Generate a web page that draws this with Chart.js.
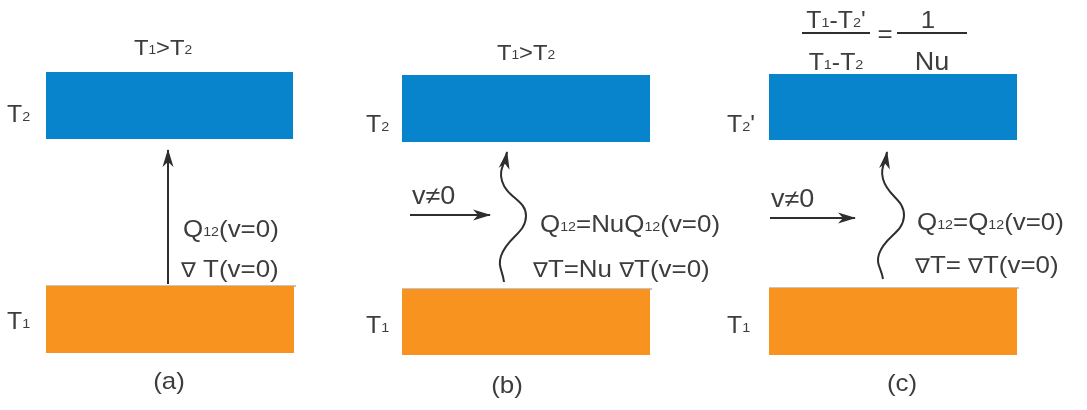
<!DOCTYPE html>
<html>
<head>
<meta charset="utf-8">
<script src="https://cdn.jsdelivr.net/npm/chart.js@4.4.1/dist/chart.umd.min.js"></script>
<style>
  html, body { margin: 0; padding: 0; background: #ffffff; overflow: hidden; }
  canvas { display: block; }
</style>
</head>
<body>
<canvas id="fig" width="1087" height="410"></canvas>
<script>
// Panel captions
const panelCaptions = ['(a)', '(b)', '(c)'];

// Cold (upper) plate per panel: [left, right] and [top, bottom]
const coldPlateX = [[46, 293], [402, 650], [769, 1017]];
const coldPlateY = [[72, 139], [75, 142], [74, 140]];
// Hot (lower) plate per panel
const hotPlateX = [[46, 294], [402, 650], [769, 1017]];
const hotPlateY = [[286, 353], [289, 355], [288, 355]];

// Pure conduction arrow, panel (a)
const conductionPath = [[168, 284], [168, 150]];
// Cross-flow arrows, panels (b) and (c)
const flowPathB = [[410, 215], [490, 215]];
const flowPathC = [[770, 218], [855, 218]];
// Wavy heat-flux paths, panels (b) and (c)
const heatPathB = [[504, 282], [501, 256], [526, 216], [502, 181], [507, 152]];
const heatPathC = [[883, 279], [879, 254], [904, 216], [883, 179], [887, 152]];
// Fraction bars of the ratio in panel (c)
const fracBarLeft = [[802, 33], [870, 33]];
const fracBarRight = [[897, 33], [967, 33]];

// Text labels: '_{..}' marks a subscript
const plateLabelsTop = ['T_{2}', 'T_{2}', "T_{2}'"];
const plateLabelsBottom = ['T_{1}', 'T_{1}', 'T_{1}'];
const headerLabels = ['T_{1}>T_{2}', 'T_{1}>T_{2}'];
const fluxLabels = ['Q_{12}(v=0)', 'Q_{12}=NuQ_{12}(v=0)', 'Q_{12}=Q_{12}(v=0)'];
const gradLabels = ['\u2207 T(v=0)', '\u2207T=Nu \u2207T(v=0)', '\u2207T= \u2207T(v=0)'];
const flowLabel = 'v\u22600';
const ratioLabels = ["T_{1}-T_{2}'", 'T_{1}-T_{2}', '=', '1', 'Nu'];

const COLD = '#0784CC';
const HOT = '#F7931E';
const INK = '#2e2e2e';
const TEXT = '#3d3d3d';

const pts = a => a.map(p => ({ x: p[0], y: p[1] }));

const datasets = [];
for (let i = 0; i < 3; i++) {
  datasets.push({
    data: pts([[coldPlateX[i][0], coldPlateY[i][0]], [coldPlateX[i][1], coldPlateY[i][0]]]),
    fill: { value: coldPlateY[i][1] }, backgroundColor: COLD,
    borderWidth: 0, pointRadius: 0
  });
  datasets.push({
    data: pts([[hotPlateX[i][0], hotPlateY[i][0]], [hotPlateX[i][1], hotPlateY[i][0]]]),
    fill: { value: hotPlateY[i][1] }, backgroundColor: HOT,
    borderWidth: 0, pointRadius: 0
  });
  // thin grey edge on top of the hot plate
  datasets.push({
    data: pts([[hotPlateX[i][0], hotPlateY[i][0]], [hotPlateX[i][1] + 2, hotPlateY[i][0]]]),
    fill: false, borderColor: '#8a8a8a', borderWidth: 1.2, pointRadius: 0
  });
}
[conductionPath, flowPathB, flowPathC].forEach(p => datasets.push({
  data: pts(p), fill: false, borderColor: INK, borderWidth: 2, pointRadius: 0, arrow: true
}));
[heatPathB, heatPathC].forEach(p => datasets.push({
  data: pts(p), fill: false, borderColor: INK, borderWidth: 2, pointRadius: 0,
  tension: 0.45, arrow: true
}));
[fracBarLeft, fracBarRight].forEach(p => datasets.push({
  data: pts(p), fill: false, borderColor: INK, borderWidth: 2, pointRadius: 0
}));

// label layout: [text, x, baseline y, align, font size, subscript ratio]
const labelItems = [
  [headerLabels[0], 163, 55, 'center', 22, 0.58],
  [headerLabels[1], 526, 60, 'center', 22, 0.58],
  [plateLabelsTop[0], 7, 122, 'left', 23, 0.58],
  [plateLabelsTop[1], 366, 132, 'left', 23, 0.58],
  [plateLabelsTop[2], 727, 132, 'left', 23, 0.58],
  [plateLabelsBottom[0], 7, 329, 'left', 23, 0.58],
  [plateLabelsBottom[1], 366, 333, 'left', 23, 0.58],
  [plateLabelsBottom[2], 727, 333, 'left', 23, 0.58],
  [fluxLabels[0], 183, 237, 'left', 24, 0.55],
  [fluxLabels[1], 540, 232, 'left', 24, 0.55],
  [fluxLabels[2], 917, 230, 'left', 24, 0.55],
  [gradLabels[0], 181, 277, 'left', 24, 0.55],
  [gradLabels[1], 533, 277, 'left', 24, 0.55],
  [gradLabels[2], 915, 273, 'left', 24, 0.55],
  [flowLabel, 412, 204, 'left', 25, 0.55],
  [flowLabel, 771, 207, 'left', 25, 0.55],
  [ratioLabels[0], 836, 28, 'center', 23, 0.58],
  [ratioLabels[1], 836, 70, 'center', 23, 0.58],
  [ratioLabels[2], 885, 42, 'center', 24, 0.58],
  [ratioLabels[3], 928, 28, 'center', 24, 0.58],
  [ratioLabels[4], 932, 70, 'center', 25, 0.58],
  [panelCaptions[0], 169, 389, 'center', 24, 0.5],
  [panelCaptions[1], 507, 393, 'center', 24, 0.5],
  [panelCaptions[2], 902, 391, 'center', 24, 0.5]
];

const FONT = '"Liberation Sans", Arial, Helvetica, sans-serif';
const STRETCH = 1.08;

// split a label into plain, subscript and nabla pieces
function parseRich(s) {
  const out = [];
  const re = /_\{([^}]*)\}|\u2207/g;
  let last = 0, m;
  while ((m = re.exec(s))) {
    if (m.index > last) out.push({ t: s.slice(last, m.index), kind: 'n' });
    if (m[0] === '\u2207') out.push({ t: '\u2207', kind: 'nabla' });
    else out.push({ t: m[1], kind: 'sub' });
    last = re.lastIndex;
  }
  if (last < s.length) out.push({ t: s.slice(last), kind: 'n' });
  return out;
}

function drawRich(ctx, s, x, y, align, size, subRatio) {
  const segs = parseRich(s);
  const fontFor = seg => {
    if (seg.kind === 'sub') return (size * subRatio) + 'px ' + FONT;
    if (seg.kind === 'nabla') return (size * 0.86) + 'px "DejaVu Sans", sans-serif';
    return size + 'px ' + FONT;
  };
  let w = 0;
  segs.forEach(seg => { ctx.font = fontFor(seg); seg.w = ctx.measureText(seg.t).width; w += seg.w; });
  w *= STRETCH;
  const x0 = align === 'center' ? x - w / 2 : x;
  ctx.save();
  ctx.translate(x0, y);
  ctx.scale(STRETCH, 1);
  ctx.fillStyle = TEXT;
  ctx.textBaseline = 'alphabetic';
  ctx.textAlign = 'left';
  let cx = 0;
  segs.forEach(seg => {
    ctx.font = fontFor(seg);
    ctx.fillText(seg.t, cx, seg.kind === 'sub' ? -size * 0.05 : 0);
    cx += seg.w;
  });
  ctx.restore();
}

const arrowHeads = {
  id: 'arrowHeads',
  afterDatasetsDraw(chart) {
    const ctx = chart.ctx;
    chart.data.datasets.forEach((ds, i) => {
      if (!ds.arrow) return;
      const el = chart.getDatasetMeta(i).data;
      const a = el[el.length - 2], b = el[el.length - 1];
      const ang = Math.atan2(b.y - a.y, b.x - a.x);
      const L = 17, H = 5.5, N = 12;
      ctx.save();
      ctx.translate(b.x, b.y);
      ctx.rotate(ang);
      ctx.fillStyle = INK;
      ctx.beginPath();
      ctx.moveTo(1, 0);
      ctx.lineTo(-L, -H);
      ctx.lineTo(-N, 0);
      ctx.lineTo(-L, H);
      ctx.closePath();
      ctx.fill();
      ctx.restore();
    });
  }
};

const labels = {
  id: 'labels',
  afterDraw(chart) {
    const ctx = chart.ctx;
    const xs = chart.scales.x, ys = chart.scales.y;
    labelItems.forEach(([s, x, y, align, size, r]) => {
      drawRich(ctx, s, xs.getPixelForValue(x), ys.getPixelForValue(y), align, size, r);
    });
  }
};

new Chart(document.getElementById('fig'), {
  type: 'line',
  data: { datasets },
  options: {
    responsive: false,
    animation: false,
    events: [],
    layout: { padding: 0 },
    plugins: { legend: { display: false }, tooltip: { enabled: false } },
    scales: {
      x: { type: 'linear', min: 0, max: 1087, display: false },
      y: { type: 'linear', min: 0, max: 410, reverse: true, display: false }
    }
  },
  plugins: [arrowHeads, labels]
});
</script>
</body>
</html>
